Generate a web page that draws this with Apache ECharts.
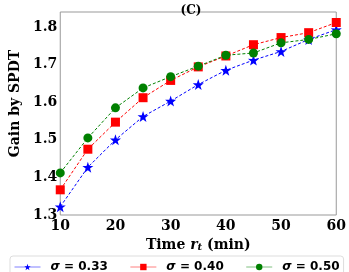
<!DOCTYPE html>
<html><head><meta charset="utf-8">
<script src="https://cdn.jsdelivr.net/npm/echarts@6/dist/echarts.min.js"></script>
<style>html,body{margin:0;padding:0;background:#fff}#c{width:349px;height:272px}</style>
</head><body><div id="c"></div>
<script>
const times = [10, 15, 20, 25, 30, 35, 40, 45, 50, 55, 60];
const sigma033 = [1.322, 1.427, 1.500, 1.562, 1.603, 1.647, 1.685, 1.712, 1.735, 1.767, 1.793];
const sigma040 = [1.367, 1.475, 1.547, 1.612, 1.658, 1.694, 1.723, 1.753, 1.772, 1.785, 1.812];
const sigma050 = [1.412, 1.505, 1.585, 1.638, 1.668, 1.696, 1.725, 1.731, 1.758, 1.767, 1.782];
const xTicks = [10, 20, 30, 40, 50, 60];
const yTicks = [1.3, 1.4, 1.5, 1.6, 1.7, 1.8];
const seriesNames = ['σ = 0.33', 'σ = 0.40', 'σ = 0.50'];

const serif = 'DejaVu Serif';
const sans = 'DejaVu Sans';
const star = 'path://M50,0 L61.8,35.1 L97.6,34.5 L69,56.4 L79.4,90.5 L50,70 L20.6,90.5 L31,56.4 L2.4,34.5 L38.2,35.1 Z';
function pairs(v){ return times.map((t,i)=>[t, v[i]]); }
function mk(name, data, color, symbol, size){
  return {
    name, type:'line', data:pairs(data), symbol, symbolSize:size,
    lineStyle:{color, width:1, type:[3,2]}, itemStyle:{color},
    emphasis:{disabled:true}, animation:false, z: 3
  };
}
const chart = echarts.init(document.getElementById('c'), null, {renderer:'canvas'});
chart.setOption({
  animation:false,
  title:{text:'(C)', left:186, textAlign:'center', top:0,
    textStyle:{fontFamily:serif, fontWeight:'bold', fontSize:12, color:'#000'}},
  grid:{left:41.5, right:10, top:12, bottom:57, show:true, borderColor:'#999', borderWidth:1},
  xAxis:{type:'value', min:10, max:60, interval:10,
    axisLine:{show:false}, axisTick:{show:false}, splitLine:{show:false},
    axisLabel:{fontFamily:serif, fontWeight:'bold', fontSize:14, color:'#000', margin:4,
      formatter:v=> xTicks.includes(v)? String(v):''},
    name:'Time {i|r}{s|t} (min)', nameLocation:'middle', nameGap:18,
    nameTextStyle:{fontFamily:serif, fontWeight:'bold', fontSize:14, color:'#000',
      rich:{i:{fontFamily:serif, fontWeight:'bold', fontStyle:'italic', fontSize:14},
            s:{fontFamily:serif, fontWeight:'bold', fontStyle:'italic', fontSize:10, padding:[6,0,0,0]}}}
  },
  yAxis:{type:'value', min:1.3, max:1.84, interval:0.1,
    axisLine:{show:false}, axisTick:{show:false}, splitLine:{show:false},
    axisLabel:{fontFamily:serif, fontWeight:'bold', fontSize:14, color:'#000', margin:3,
      formatter:v=>{const y=yTicks.find(t=>Math.abs(t-v)<1e-6); return y!==undefined? y.toFixed(1):'';}},
    name:'Gain by SPDT', nameLocation:'middle', nameGap:30,
    nameTextStyle:{fontFamily:serif, fontWeight:'bold', fontSize:14, color:'#000', padding:[0,0,0,20]}
  },
  legend:{
    top:256, left:10, width:345, itemGap:22, itemWidth:26, itemHeight:8,
    padding:[5,4,8,4], borderColor:'#ddd', borderWidth:1, borderRadius:3,
    textStyle:{fontFamily:sans, fontWeight:'bold', fontSize:12, color:'#000', padding:[0,0,0,5],
      rich:{i:{fontFamily:sans, fontWeight:'bold', fontStyle:'italic', fontSize:12}}},
    formatter:n=>'{i|σ}'+n.slice(1),
    data:[
      {name:seriesNames[0], lineStyle:{color:'#8080ff', type:'solid', width:1}},
      {name:seriesNames[1], lineStyle:{color:'#ff8080', type:'solid', width:1}},
      {name:seriesNames[2], lineStyle:{color:'#80c080', type:'solid', width:1}}
    ]
  },
  series:[
    mk(seriesNames[0], sigma033, '#0000ff', star, 11),
    mk(seriesNames[1], sigma040, '#ff0000', 'rect', 9),
    mk(seriesNames[2], sigma050, '#008000', 'circle', 9)
  ]
});
</script></body></html>
